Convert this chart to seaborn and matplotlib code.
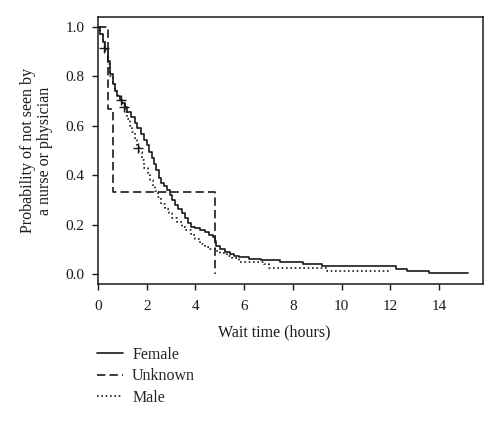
import matplotlib
matplotlib.use("Agg")
import matplotlib.pyplot as plt
import seaborn as sns
import pandas as pd

# ---- data ----
female_t = [0, 0.1, 0.2, 0.3, 0.4, 0.5, 0.6, 0.7, 0.8, 0.9, 1.0, 1.1, 1.2, 1.35, 1.5,
            1.6, 1.75, 1.9, 2.0, 2.1, 2.2, 2.3, 2.4, 2.5, 2.6, 2.7, 2.85, 2.95, 3.05,
            3.15, 3.3, 3.45, 3.55, 3.7, 3.8, 4.0, 4.2, 4.4, 4.55, 4.7, 4.8, 4.85, 5.0,
            5.2, 5.4, 5.6, 5.8, 6.2, 6.7, 7.45, 8.4, 9.2, 12.25, 12.7, 13.6, 15.2]
female_s = [1.0, 0.97, 0.94, 0.91, 0.86, 0.81, 0.77, 0.74, 0.72, 0.705, 0.69, 0.675,
            0.655, 0.635, 0.61, 0.59, 0.565, 0.54, 0.52, 0.495, 0.47, 0.445, 0.42,
            0.39, 0.37, 0.355, 0.34, 0.32, 0.30, 0.28, 0.265, 0.245, 0.225, 0.205,
            0.19, 0.185, 0.178, 0.17, 0.16, 0.15, 0.135, 0.115, 0.10, 0.09, 0.082,
            0.075, 0.068, 0.063, 0.058, 0.047, 0.040, 0.034, 0.020, 0.013, 0.006, 0.006]

unknown_t = [0, 0.4, 0.6, 4.8]
unknown_s = [1.0, 0.667, 0.333, 0.0]

male_t = [0, 0.1, 0.2, 0.3, 0.4, 0.5, 0.6, 0.7, 0.8, 0.9, 1.0, 1.1, 1.2, 1.3, 1.4, 1.5,
          1.6, 1.7, 1.8, 1.9, 2.05, 2.15, 2.25, 2.35, 2.45, 2.6, 2.75, 2.9, 3.05, 3.25,
          3.45, 3.6, 3.8, 4.0, 4.2, 4.4, 4.6, 4.85, 5.0, 5.3, 5.5, 5.8, 6.8, 7.0, 9.4, 12.0]
male_s = [1.0, 0.97, 0.94, 0.90, 0.85, 0.80, 0.77, 0.745, 0.725, 0.705, 0.685, 0.655,
          0.625, 0.60, 0.575, 0.545, 0.515, 0.495, 0.46, 0.43, 0.40, 0.38, 0.355, 0.335,
          0.31, 0.285, 0.265, 0.245, 0.225, 0.21, 0.19, 0.178, 0.16, 0.14, 0.12, 0.11,
          0.10, 0.095, 0.085, 0.072, 0.065, 0.05, 0.04, 0.024, 0.012, 0.012]

female_cens_t = [0.23, 0.94, 1.05]
female_cens_s = [0.914, 0.704, 0.677]
male_cens_t = [1.63]
male_cens_s = [0.509]

xticks = [0, 2, 4, 6, 8, 10, 12, 14]
yticks = [0.0, 0.2, 0.4, 0.6, 0.8, 1.0]

# ---- styling ----
sns.set_theme(style="ticks")
plt.rcParams["font.family"] = ["Liberation Serif", "DejaVu Serif"]
FS = 11
ink = "#1a1a1a"

fig = plt.figure(figsize=(5.0, 4.23), dpi=100)
ax = fig.add_axes([0.196, 0.3286, 0.77, 0.6312])

lw = 1.2
sns.lineplot(x=female_t, y=female_s, ax=ax, drawstyle="steps-post", color=ink,
             linewidth=lw, linestyle="-", label="Female", sort=False, estimator=None)
sns.lineplot(x=unknown_t, y=unknown_s, ax=ax, drawstyle="steps-post", color=ink,
             linewidth=lw, linestyle=(0, (5, 2.5)), label="Unknown", sort=False, estimator=None)
sns.lineplot(x=male_t, y=male_s, ax=ax, drawstyle="steps-post", color=ink,
             linewidth=lw, linestyle=(0, (1, 1.6)), label="Male", sort=False, estimator=None)

sns.scatterplot(x=female_cens_t + male_cens_t, y=female_cens_s + male_cens_s, ax=ax,
                marker="+", s=45, color=ink, linewidth=1.0, legend=False, zorder=5)

ax.set_xlim(0, 15.8)
ax.set_ylim(-0.04, 1.039)
ax.set_xticks(xticks)
ax.set_yticks(yticks)
ax.set_xticklabels([str(v) for v in xticks], fontsize=FS, color=ink)
ax.set_yticklabels([f"{v:.1f}" for v in yticks], fontsize=FS, color=ink)
ax.tick_params(direction="out", length=4.5, width=1.0, color=ink)
ax.tick_params(axis="x", pad=7)
ax.tick_params(axis="y", pad=5)

for side in ["left", "right", "top", "bottom"]:
    ax.spines[side].set_visible(True)
    ax.spines[side].set_linewidth(1.1)
    ax.spines[side].set_color(ink)

ax.set_xlabel("Wait time (hours)", fontsize=FS + 0.5, color=ink)
ax.xaxis.set_label_coords(0.457, -0.15)
ax.set_ylabel("Probability of not seen by\na nurse or physician", fontsize=FS + 0.5,
              color=ink, linespacing=1.1)
ax.yaxis.set_label_coords(-0.117, 0.5)

ax.get_legend().remove()
handles, labels = ax.get_legend_handles_labels()
fig.legend(handles, labels, loc="upper left", bbox_to_anchor=(0.194, 0.18),
           frameon=False, fontsize=FS + 0.5, handlelength=1.6, handletextpad=0.6,
           labelspacing=0.35, borderaxespad=0, borderpad=0)

fig.savefig("out.png", dpi=100)
